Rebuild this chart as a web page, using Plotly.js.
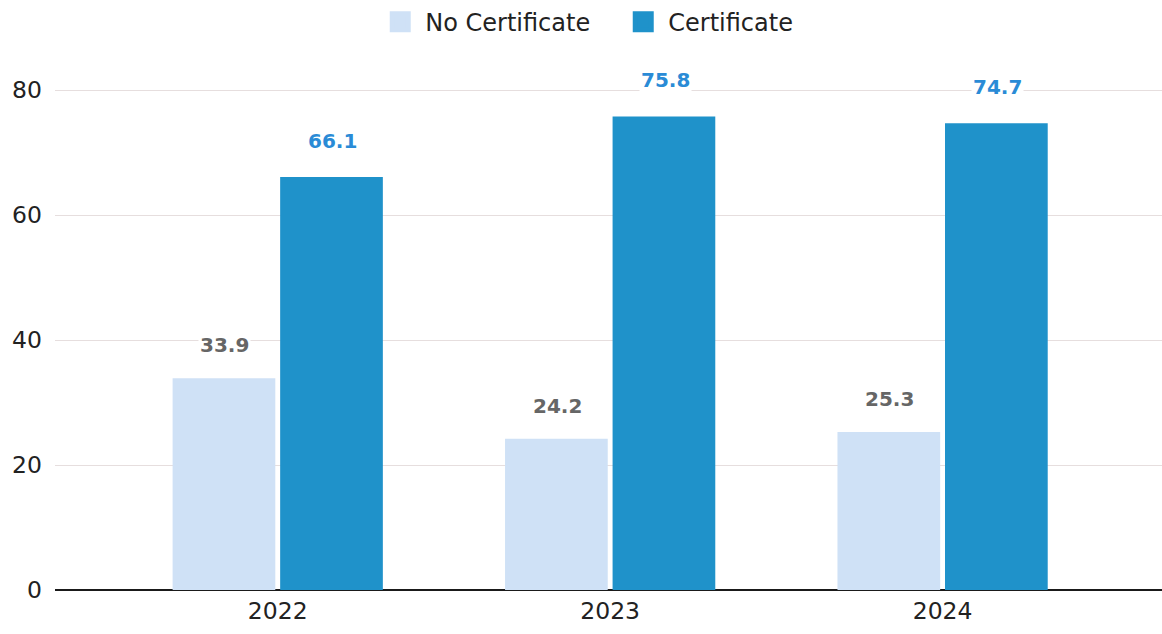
<!DOCTYPE html>
<html><head><meta charset="utf-8">
<script src="https://cdn.plot.ly/plotly-3.0.1.min.js"></script>
<style>html,body{margin:0;padding:0;background:#fff}#chart{width:1162px;height:634px}</style>
</head><body><div id="chart"></div>
<script>
const years = ['2022', '2023', '2024'];
const noCertificate = [33.9, 24.2, 25.3];
const certificate = [66.1, 75.8, 74.7];
const seriesNames = ['No Certificate', 'Certificate'];

const colNo = '#cfe1f6';
const colCert = '#1f92ca';
const font = 'DejaVu Sans, Verdana, sans-serif';

const traces = [
  {type: 'bar', name: seriesNames[0], x: years, y: noCertificate, marker: {color: colNo}, hoverinfo: 'none', showlegend: false},
  {type: 'bar', name: seriesNames[1], x: years, y: certificate, marker: {color: colCert}, hoverinfo: 'none', showlegend: false},
  {type: 'scatter', mode: 'markers', name: seriesNames[0], x: [null], y: [null], showlegend: true,
    marker: {symbol: 'square', size: 16, color: colNo, line: {color: colNo, width: 6}}},
  {type: 'scatter', mode: 'markers', name: seriesNames[1], x: [null], y: [null], showlegend: true,
    marker: {symbol: 'square', size: 16, color: colCert, line: {color: colCert, width: 6}}}
];

const annotations = [];
years.forEach((yr, i) => {
  annotations.push({xref: 'x', yref: 'y', x: i, y: noCertificate[i], xshift: -53, yshift: 33, text: '<b>' + noCertificate[i].toFixed(1) + '</b>',
    showarrow: false, font: {family: font, size: 20, color: '#666666'}, bgcolor: '#ffffff'});
  annotations.push({xref: 'x', yref: 'y', x: i, y: certificate[i], xshift: 55, yshift: 36, text: '<b>' + certificate[i].toFixed(1) + '</b>',
    showarrow: false, font: {family: font, size: 20, color: '#2a8bd6'}, bgcolor: '#ffffff'});
});

const layout = {
  width: 1162, height: 634,
  margin: {l: 55, r: 0, t: 59, b: 44},
  paper_bgcolor: '#ffffff', plot_bgcolor: '#ffffff',
  font: {family: font, size: 23.5, color: '#222222'},
  barmode: 'group', bargap: 0.353, bargroupgap: 0.045,
  showlegend: true,
  legend: {orientation: 'h', x: 0.5088, xanchor: 'center', y: 0.965, yanchor: 'middle', yref: 'container',
    font: {family: font, size: 24, color: '#222222'}, traceorder: 'normal', itemsizing: 'trace',
    itemwidth: 40, entrywidth: 188, entrywidthmode: 'pixels'},
  xaxis: {type: 'category', range: [-0.67, 2.66], showgrid: false, showline: false, ticks: '',
    tickfont: {family: font, size: 23.5, color: '#222222'}, ticklabelstandoff: 4},
  yaxis: {range: [0, 85], tickvals: [0, 20, 40, 60, 80], showgrid: true, gridcolor: '#e6dede', gridwidth: 1,
    zeroline: true, zerolinecolor: '#1a1a1a', zerolinewidth: 2, ticks: '',
    tickfont: {family: font, size: 23.5, color: '#222222'}, ticklabelstandoff: 12},
  annotations: annotations
};
Plotly.newPlot('chart', traces, layout, {displayModeBar: false, staticPlot: true});
</script></body></html>
